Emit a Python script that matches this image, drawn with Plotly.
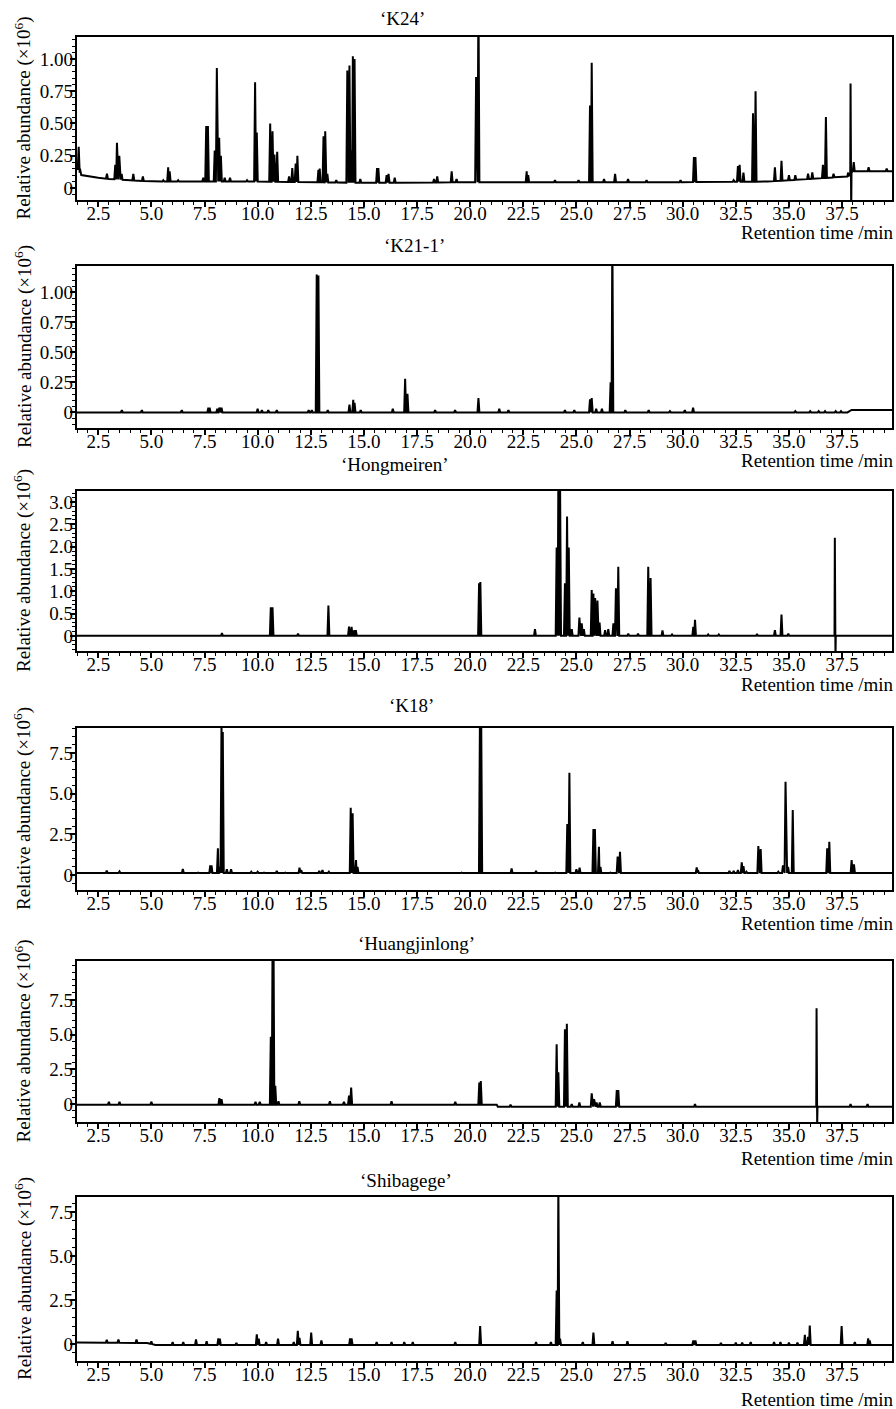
import numpy as np
import plotly.graph_objects as go

W, H = 896, 1409
FONT = "Liberation Serif"

titles = ["‘K24’", "‘K21-1’", "‘Hongmeiren’", "‘K18’", "‘Huangjinlong’", "‘Shibagege’"]
x_ticks = [2.5, 5.0, 7.5, 10.0, 12.5, 15.0, 17.5, 20.0, 22.5, 25.0, 27.5, 30.0, 32.5, 35.0, 37.5]
x_title = "Retention time /min"
y_title = "Relative abundance (×10<sup>6</sup>)"

# ---------------- 'K24' ----------------
k24_rt = [1.58, 1.64, 2.91, 3.30, 3.38, 3.49, 3.60, 4.15, 4.60, 5.56, 5.79, 5.86, 6.26, 7.44, 7.58, 7.66,
          7.98, 8.08, 8.19, 8.27, 8.45, 8.70, 9.50, 9.88, 9.96, 10.59, 10.70, 10.79, 10.92, 11.48, 11.63,
          11.79, 11.87, 12.86, 12.92, 13.10, 13.18, 13.28, 13.70, 14.22, 14.32, 14.40, 14.48, 14.56, 14.83,
          15.62, 15.68, 16.07, 16.16, 16.45, 18.30, 18.45, 19.13, 19.36, 20.28, 20.39, 22.66, 22.73, 23.99,
          25.10, 25.64, 25.72, 26.30, 26.82, 27.43, 28.30, 29.90, 30.53, 30.60, 32.40, 32.60, 32.68, 32.86,
          33.31, 33.43, 34.34, 34.65, 35.00, 35.30, 35.90, 36.10, 36.60, 36.74, 37.10, 37.79, 37.90, 37.93,
          38.05, 38.75, 39.60]
k24_h = [0.32, 0.15, 0.11, 0.18, 0.35, 0.25, 0.11, 0.11, 0.09, 0.06, 0.16, 0.13, 0.06, 0.08, 0.48, 0.48,
         0.29, 0.93, 0.39, 0.25, 0.08, 0.08, 0.06, 0.82, 0.43, 0.50, 0.44, 0.26, 0.28, 0.09, 0.155,
         0.19, 0.25, 0.14, 0.15, 0.40, 0.44, 0.11, 0.06, 0.91, 0.95, 0.29, 1.02, 1.00, 0.07,
         0.155, 0.155, 0.10, 0.11, 0.08, 0.07, 0.09, 0.13, 0.07, 0.86, 1.50, 0.13, 0.10, 0.06,
         0.06, 0.64, 0.97, 0.07, 0.11, 0.07, 0.06, 0.06, 0.24, 0.24, 0.06, 0.17, 0.18, 0.12,
         0.58, 0.75, 0.16, 0.21, 0.10, 0.10, 0.11, 0.12, 0.18, 0.55, 0.11, 0.12, 0.81, -0.20,
         0.20, 0.16, 0.15]
k24_base_rt = [1.5, 1.7, 2.5, 3.0, 4.0, 5.0, 7.0, 10.0, 15.0, 20.0, 30.0, 34.0, 36.0, 37.8, 38.0, 39.85]
k24_base_v = [0.15, 0.10, 0.08, 0.07, 0.06, 0.05, 0.05, 0.05, 0.04, 0.045, 0.045, 0.05, 0.07, 0.09, 0.13, 0.13]

# ---------------- 'K21-1' ----------------
k21_rt = [3.61, 4.55, 6.43, 7.68, 7.74, 8.10, 8.20, 8.30, 10.0, 10.2, 10.5, 10.9, 12.4, 12.55, 12.78, 12.86,
          13.3, 14.32, 14.50, 14.56, 14.85, 16.36, 16.94, 17.05, 18.35, 19.29, 20.39, 21.37, 21.8, 24.46,
          24.9, 25.64, 25.72, 25.93, 26.2, 26.61, 26.69, 27.3, 28.4, 29.4, 30.1, 30.49, 35.3, 36.0, 36.4,
          36.7, 37.2, 37.45]
k21_h = [0.02, 0.02, 0.02, 0.04, 0.04, 0.03, 0.04, 0.04, 0.03, 0.02, 0.02, 0.02, 0.02, 0.02, 1.15, 1.14,
         0.02, 0.065, 0.105, 0.08, 0.02, 0.03, 0.28, 0.155, 0.02, 0.02, 0.12, 0.03, 0.02, 0.02,
         0.02, 0.11, 0.12, 0.03, 0.03, 0.25, 1.50, 0.02, 0.02, 0.01, 0.02, 0.04, 0.01, 0.01, 0.01,
         0.01, 0.01, 0.01]
k21_base_rt = [1.5, 37.75, 37.95, 39.85]
k21_base_v = [0.0, 0.0, 0.02, 0.02]

# ---------------- 'Hongmeiren' ----------------
hmr_rt = [8.32, 10.62, 10.70, 11.9, 13.33, 14.30, 14.42, 14.55, 14.62, 20.42, 20.48, 23.05, 24.07, 24.15,
          24.23, 24.46, 24.56, 24.64, 24.78, 25.14, 25.25, 25.35, 25.72, 25.80, 25.88, 25.99, 26.09, 26.35,
          26.5, 26.74, 26.86, 26.97, 27.44, 27.9, 28.38, 28.49, 29.05, 29.5, 30.50, 30.58, 31.2, 31.7, 33.5,
          34.34, 34.65, 34.97, 37.16, 37.19]
hmr_h = [0.06, 0.64, 0.64, 0.05, 0.68, 0.21, 0.20, 0.13, 0.13, 1.18, 1.21, 0.15, 1.98, 3.50,
         3.50, 1.18, 2.68, 1.98, 0.15, 0.41, 0.28, 0.15, 1.03, 0.95, 0.85, 0.79, 0.30, 0.13,
         0.15, 0.28, 1.07, 1.55, 0.05, 0.05, 1.55, 1.30, 0.12, 0.03, 0.20, 0.36, 0.03, 0.03, 0.04,
         0.13, 0.48, 0.05, 2.20, -0.50]
hmr_base_rt = [1.5, 39.85]
hmr_base_v = [0.0, 0.0]

# ---------------- 'K18' ----------------
k18_rt = [2.9, 3.5, 4.5, 5.5, 5.9, 6.48, 7.2, 7.77, 7.83, 8.13, 8.20, 8.30, 8.36, 8.55, 8.75, 9.7, 10.0,
          10.3, 10.9, 11.3, 11.97, 12.05, 12.9, 13.05, 13.35, 14.38, 14.47, 14.63, 14.70, 15.6, 16.3, 17.1,
          17.3, 18.2, 19.1, 19.6, 20.46, 20.52, 21.95, 23.1, 24.0, 24.57, 24.67, 25.0, 25.15, 25.8, 25.87,
          26.06, 26.13, 26.6, 26.94, 27.05, 27.45, 27.98, 29.7, 30.1, 30.66, 30.72, 32.2, 32.4, 32.6, 32.78,
          32.86, 33.0, 33.56, 33.67, 34.5, 34.72, 34.84, 34.96, 35.18, 35.5, 36.8, 36.9, 37.95, 38.06]
k18_h = [0.27, 0.22, 0.15, 0.15, 0.15, 0.37, 0.15, 0.60, 0.60, 1.64, 0.50, 9.50, 8.80, 0.35, 0.35, 0.20, 0.20,
         0.15, 0.25, 0.15, 0.45, 0.30, 0.25, 0.30, 0.20, 4.14, 3.79, 0.92, 0.50, 0.12, 0.12, 0.10,
         0.12, 0.12, 0.12, 0.15, 9.50, 9.50, 0.41, 0.25, 0.15, 3.13, 6.29, 0.35, 0.45, 2.83, 2.83,
         1.74, 0.50, 0.15, 1.13, 1.43, 0.12, 0.12, 0.12, 0.12, 0.47, 0.30, 0.25, 0.25, 0.30, 0.78,
         0.55, 0.20, 1.78, 1.60, 0.20, 0.60, 5.74, 0.50, 4.00, 0.12, 1.64, 2.05, 0.92, 0.65]
k18_base_rt = [1.5, 39.85]
k18_base_v = [0.12, 0.12]

# ---------------- 'Huangjinlong' ----------------
hjl_rt = [3.0, 3.5, 5.0, 8.2, 8.3, 9.9, 10.1, 10.62, 10.70, 10.75, 10.83, 10.98, 11.96, 13.4, 14.06, 14.3,
          14.4, 16.3, 19.3, 20.43, 20.50, 21.9, 24.07, 24.15, 24.46, 24.55, 24.78, 25.14, 25.72, 25.83,
          25.95, 26.1, 26.9, 26.97, 30.58, 36.30, 36.33, 37.9, 38.7]
hjl_h = [0.15, 0.15, 0.15, 0.41, 0.35, 0.15, 0.15, 4.85, 11.0, 11.0, 1.30, 0.20, 0.20, 0.20, 0.15, 0.60,
         1.18, 0.20, 0.15, 1.55, 1.66, -0.05, 4.30, 2.28, 5.38, 5.77, 0.0, 0.10, 0.77, 0.35,
         0.10, 0.10, 1.00, 1.00, 0.0, 6.90, -1.50, 0.0, 0.0]
hjl_base_rt = [1.5, 21.25, 21.3, 39.85]
hjl_base_v = [-0.05, -0.05, -0.2, -0.2]

# ---------------- 'Shibagege' ----------------
sbg_rt = [2.9, 3.45, 4.3, 5.0, 6.0, 6.5, 7.1, 7.6, 8.15, 8.22, 9.0, 9.96, 10.05, 10.4, 10.96, 11.7, 11.89,
          11.97, 12.52, 13.0, 14.35, 14.42, 15.6, 16.3, 16.9, 17.3, 19.3, 20.47, 23.1, 23.8, 24.07, 24.15,
          24.23, 25.3, 25.8, 26.7, 27.4, 29.2, 30.5, 30.6, 31.8, 32.5, 32.8, 33.2, 34.3, 34.6, 35.0, 35.4,
          35.75, 35.9, 35.98, 37.48, 38.1, 38.73, 38.8]
sbg_h = [0.23, 0.25, 0.25, 0.15, 0.10, 0.10, 0.25, 0.15, 0.32, 0.30, 0.05, 0.55, 0.30, 0.10, 0.30, 0.10, 0.74,
         0.35, 0.64, 0.20, 0.32, 0.32, 0.10, 0.10, 0.10, 0.10, 0.10, 1.02, 0.10, 0.10, 3.03, 9.00,
         0.30, 0.10, 0.64, 0.15, 0.15, 0.05, 0.20, 0.20, 0.05, 0.08, 0.08, 0.10, 0.10, 0.10, 0.08, 0.08,
         0.51, 0.40, 1.04, 1.02, 0.10, 0.32, 0.20]
sbg_base_rt = [1.5, 4.8, 5.2, 39.85]
sbg_base_v = [0.08, 0.05, -0.06, -0.06]

# y-axis ticks per panel
y_tick_vals = [[0, 0.25, 0.5, 0.75, 1.0], [0, 0.25, 0.5, 0.75, 1.0],
               [0, 0.5, 1.0, 1.5, 2.0, 2.5, 3.0], [0, 2.5, 5.0, 7.5], [0, 2.5, 5.0, 7.5], [0, 2.5, 5.0, 7.5]]
y_tick_text = [["0", "0.25", "0.50", "0.75", "1.00"], ["0", "0.25", "0.50", "0.75", "1.00"],
               ["0", "0.5", "1.0", "1.5", "2.0", "2.5", "3.0"], ["0", "2.5", "5.0", "7.5"],
               ["0", "2.5", "5.0", "7.5"], ["0", "2.5", "5.0", "7.5"]]
y_ranges = [[-0.093, 1.17], [-0.13, 1.22], [-0.34, 3.25], [-0.92, 9.04], [-1.3, 10.3], [-0.97, 8.35]]
y_minor = [0.05, 0.05, 0.1, 0.5, 0.5, 0.5]

panels = [
    (k24_rt, k24_h, k24_base_rt, k24_base_v),
    (k21_rt, k21_h, k21_base_rt, k21_base_v),
    (hmr_rt, hmr_h, hmr_base_rt, hmr_base_v),
    (k18_rt, k18_h, k18_base_rt, k18_base_v),
    (hjl_rt, hjl_h, hjl_base_rt, hjl_base_v),
    (sbg_rt, sbg_h, sbg_base_rt, sbg_base_v),
]

# layout geometry (pixels)
box_top = [37, 266, 491, 728, 961, 1197]
box_bot = [200, 428, 651, 890, 1122, 1361]
title_y = [18, 245, 465, 705, 943, 1180]
title_x = [402, 414, 395, 411, 416, 406]
xt_y = [233, 460, 684, 923, 1158, 1399]
xt_x = [895, 895, 895, 895, 895, 895]
X_LEFT, X_RIGHT = 77, 892
X_RANGE = [1.5, 39.85]
HALF_W = 0.045


def build(peak_rt, peak_h, base_rt, base_v):
    pts = list(zip(base_rt, base_v))
    for rt, h in zip(peak_rt, peak_h):
        b1 = float(np.interp(rt - HALF_W, base_rt, base_v))
        b2 = float(np.interp(rt + HALF_W, base_rt, base_v))
        pts += [(rt - HALF_W, b1), (rt, h), (rt + HALF_W, b2)]
    pts.sort(key=lambda p: p[0])
    return [p[0] for p in pts], [p[1] for p in pts]


def px(x):
    return x / W


def py(y):
    return 1 - y / H


fig = go.Figure()
annotations = []
tickfont = dict(family=FONT, size=19, color="black")
for i, (prt, ph, brt, bv) in enumerate(panels):
    n = "" if i == 0 else str(i + 1)
    xs, ys = build(prt, ph, brt, bv)
    fig.add_trace(go.Scatter(x=xs, y=ys, mode="lines", line=dict(color="black", width=2.0),
                             xaxis="x" + n, yaxis="y" + n, hoverinfo="skip", showlegend=False))
    fig.layout["xaxis" + n] = dict(
        domain=[px(X_LEFT), px(X_RIGHT)], range=X_RANGE, anchor="y" + n, automargin=False,
        tickmode="array", tickvals=x_ticks, ticktext=[f"{v:.1f}" for v in x_ticks],
        ticks="outside", ticklen=5, tickwidth=1.6, tickcolor="black",
        minor=dict(tickmode="linear", tick0=0, dtick=0.5, ticks="outside", ticklen=3, tickwidth=1.4,
                   tickcolor="black"),
        showline=True, linewidth=2.2, linecolor="black", mirror=True,
        showgrid=False, zeroline=False, tickfont=tickfont, ticklabelstandoff=-10)
    fig.layout["yaxis" + n] = dict(
        domain=[py(box_bot[i]), py(box_top[i])], range=y_ranges[i], anchor="x" + n, automargin=False,
        tickmode="array", tickvals=y_tick_vals[i], ticktext=y_tick_text[i],
        ticks="outside", ticklen=5, tickwidth=1.6, tickcolor="black",
        minor=dict(tickmode="linear", tick0=0, dtick=y_minor[i], ticks="outside", ticklen=3, tickwidth=1.4,
                   tickcolor="black"),
        showline=True, linewidth=2.2, linecolor="black", mirror=True,
        showgrid=False, zeroline=False, tickfont=tickfont, ticklabelstandoff=-7)
    annotations.append(dict(text=titles[i], x=px(title_x[i]), y=py(title_y[i]), xref="paper", yref="paper",
                            xanchor="center", yanchor="middle", showarrow=False, font=tickfont))
    annotations.append(dict(text=x_title, x=px(xt_x[i]), y=py(xt_y[i]), xref="paper", yref="paper",
                            xanchor="right", yanchor="middle", showarrow=False, font=tickfont))
    annotations.append(dict(text=y_title, x=px(23), y=py((box_top[i] + box_bot[i]) / 2), xref="paper",
                            yref="paper", xanchor="center", yanchor="middle", textangle=-90,
                            showarrow=False, font=tickfont))

fig.update_layout(width=W, height=H, margin=dict(l=0, r=0, t=0, b=0),
                  paper_bgcolor="white", plot_bgcolor="white", annotations=annotations)
fig.write_html("out.html", config={"displayModeBar": False},
               post_script="document.body.style.margin='0px';document.body.style.overflow='hidden';")
